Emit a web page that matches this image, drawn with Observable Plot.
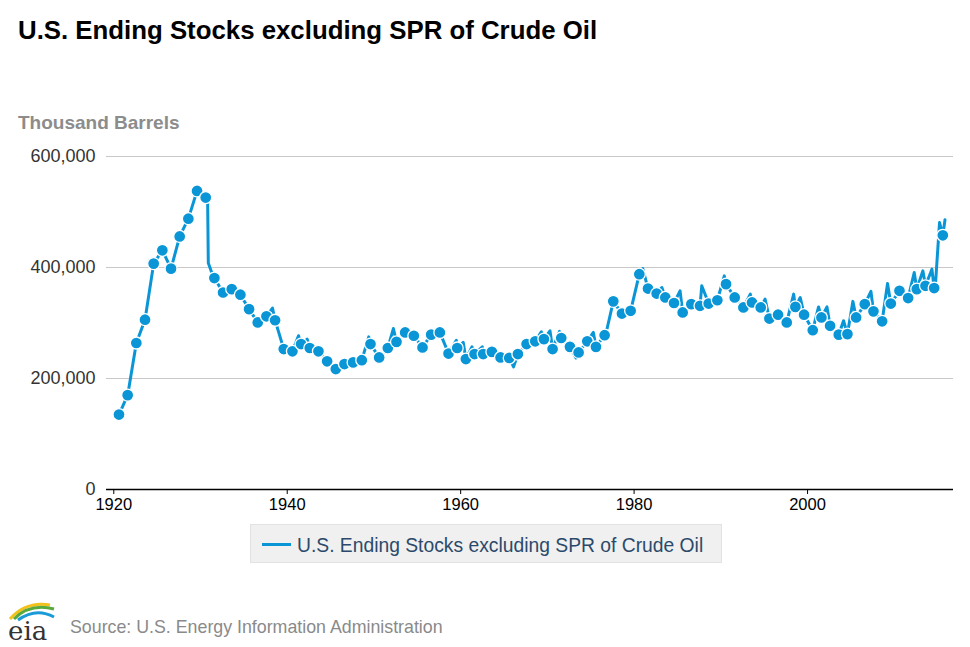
<!DOCTYPE html>
<html>
<head>
<meta charset="utf-8">
<script src="https://cdn.jsdelivr.net/npm/d3@7"></script>
<script src="https://cdn.jsdelivr.net/npm/@observablehq/plot@0.6"></script>
<style>
  html, body { margin: 0; padding: 0; background: #fff; }
  body { width: 970px; height: 647px; position: relative; overflow: hidden; font-family: "Liberation Sans", Arial, sans-serif; }
  #title { position: absolute; left: 18px; top: 18px; font-size: 25.8px; font-weight: bold; color: #000; line-height: 1; white-space: nowrap; }
  #unit { position: absolute; left: 18px; top: 113px; font-size: 19px; font-weight: bold; color: #8c8c8c; line-height: 1; white-space: nowrap; }
  #chart { position: absolute; left: 0; top: 140px; }
  #legend { position: absolute; left: 250px; top: 524px; width: 472px; height: 39px; background: #f0f0f0; border: 1px solid #e2e2e2; box-sizing: border-box; }
  #legend .sw { position: absolute; left: 11px; top: 18px; width: 29px; height: 3px; background: #0a96d6; }
  #legend .lt { position: absolute; left: 46px; top: 11px; font-size: 19.3px; color: #2b4a6b; line-height: 1; white-space: nowrap; }
  #source { position: absolute; left: 70px; top: 619px; font-size: 17.8px; color: #8a8a8a; line-height: 1; white-space: nowrap; }
  #logo { position: absolute; left: 2px; top: 597px; }
</style>
</head>
<body>
<div id="title">U.S. Ending Stocks excluding SPR of Crude Oil</div>
<div id="unit">Thousand Barrels</div>
<div id="chart"></div>
<div id="legend"><div class="sw"></div><div class="lt">U.S. Ending Stocks excluding SPR of Crude Oil</div></div>
<svg id="logo" width="64" height="50" viewBox="0 0 64 50">
  <path d="M8 22 Q24 4 48 8" fill="none" stroke="#f2c21b" stroke-width="3"/>
  <path d="M12 22 Q28 6 52 12" fill="none" stroke="#5aa93c" stroke-width="3"/>
  <path d="M16 23 Q34 10 52 20" fill="none" stroke="#1a9ad6" stroke-width="3"/>
  <text x="6" y="43" font-family="'DejaVu Serif', 'Liberation Serif', serif" font-size="26" fill="#333">eia</text>
</svg>
<div id="source">Source: U.S. Energy Information Administration</div>
<script>
// Annual marker values (thousand barrels), one per year
const years = d3.range(1920, 2016);
const stocks = [
  135000, 170000, 264000, 306000, 407000, 431000, 398000, 456000, 488000, 538000,
  526000, 381000, 355000, 361000, 351000, 325000, 301000, 312000, 305000, 253000,
  249000, 262000, 255000, 249000, 231000, 217000, 226000, 229000, 233000, 262000,
  238000, 255000, 266000, 283000, 277000, 256000, 279000, 283000, 245000, 255000,
  235000, 244000, 244000, 248000, 238000, 237000, 244000, 262000, 267000, 271000,
  253000, 273000, 257000, 247000, 267000, 257000, 278000, 339000, 317000, 322000,
  388000, 362000, 353000, 346000, 336000, 319000, 334000, 331000, 335000, 341000,
  370000, 346000, 328000, 337000, 328000, 308000, 315000, 301000, 329000, 315000,
  287000, 310000, 295000, 279000, 280000, 310000, 334000, 321000, 303000, 335000,
  358000, 345000, 361000, 367000, 363000, 458000
];
// Additional intra-year points of the monthly line (fractional year, value)
const extraTimes = [
  1930.82, 1930.9, 1931.2, 1938.3, 1941.3, 1942.3, 1949.4, 1952.24, 1959.5, 1960.3,
  1961.3, 1962.5, 1966.1, 1969.3, 1970.3, 1971.4, 1973.3, 1975.3, 1976.9, 1981.0,
  1983.2, 1985.3, 1987.8, 1990.4, 1993.4, 1995.1, 1998.4, 1999.16, 2001.27, 2002.24,
  2004.15, 2005.23, 2007.31, 2009.22, 2012.3, 2013.3, 2014.34, 2014.76, 2015.22, 2015.85
];
const extraValues = [
  522000, 408000, 395000, 327000, 277000, 271000, 275000, 290000, 269000, 265000,
  257000, 257000, 221000, 284000, 286000, 285000, 237000, 283000, 291000, 398000,
  364000, 358000, 367000, 385000, 352000, 343000, 352000, 346000, 329000, 329000,
  304000, 339000, 357000, 371000, 391000, 394000, 397000, 372000, 481000, 486000
];
const xTicks = [1920, 1940, 1960, 1980, 2000];
const yTicks = [0, 200000, 400000, 600000];
const seriesName = "U.S. Ending Stocks excluding SPR of Crude Oil";

const markerOffset = 0.6; // markers sit mid-year
const dots = years.map((y, i) => ({t: y + markerOffset, v: stocks[i]}));
const lineData = dots.concat(extraTimes.map((t, i) => ({t, v: extraValues[i]})))
  .sort((a, b) => a.t - b.t);

const blue = "#0a96d6";
const chart = Plot.plot({
  width: 970,
  height: 380,
  marginLeft: 106,
  marginRight: 17,
  marginTop: 16,
  marginBottom: 31,
  style: {fontFamily: "'Liberation Sans', Arial, sans-serif", color: "#333", background: "transparent", overflow: "visible"},
  x: {domain: [1919.16, 2016.83]},
  y: {domain: [0, 600000]},
  marks: [
    Plot.ruleY(yTicks.filter(d => d > 0), {stroke: "#c8c8c8", strokeWidth: 1}),
    Plot.axisY({ticks: yTicks, tickSize: 0, tickPadding: 11, tickFormat: d3.format(","), fontSize: 18, label: null, fill: "#333"}),
    Plot.axisX({ticks: xTicks, tickSize: 5, tickPadding: 3.5, tickFormat: d => String(d), fontSize: 16.5, label: null, fill: "#000", stroke: "#000"}),
    Plot.ruleY([0], {stroke: "#000", strokeWidth: 1.5}),
    Plot.line(lineData, {x: "t", y: "v", stroke: blue, strokeWidth: 3, curve: "linear"}),
    Plot.dot(dots, {x: "t", y: "v", r: 6, fill: blue, stroke: "#fff", strokeWidth: 1.3})
  ]
});
document.getElementById("chart").appendChild(chart);
</script>
</body>
</html>
